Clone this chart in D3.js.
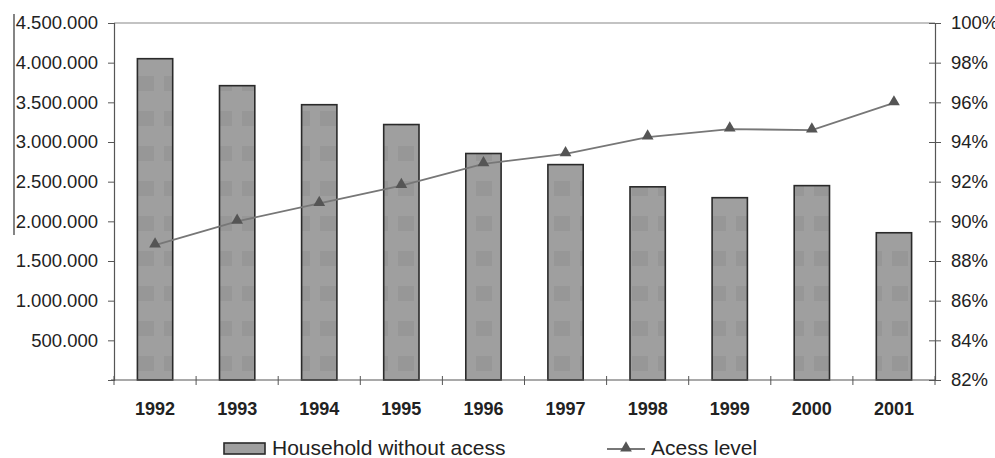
<!DOCTYPE html>
<html>
<head>
<meta charset="utf-8">
<script src="https://cdn.jsdelivr.net/npm/d3@7"></script>
<style>
  html, body { margin: 0; padding: 0; background: #fff; }
  svg { display: block; font-family: "Liberation Sans", Arial, sans-serif; }
</style>
</head>
<body>
<svg id="chart" width="995" height="458"></svg>
<script>
// Households without access and access level, 1992–2001
const years = ["1992", "1993", "1994", "1995", "1996", "1997", "1998", "1999", "2000", "2001"];
const householdsWithout = [4050000, 3710000, 3470000, 3220000, 2855000, 2715000, 2435000, 2298000, 2450000, 1856000];
const accessLevel = [88.8, 90.0, 90.9, 91.8, 92.9, 93.4, 94.25, 94.65, 94.6, 95.97];
const leftTicks = [500000, 1000000, 1500000, 2000000, 2500000, 3000000, 3500000, 4000000, 4500000];
const rightTicks = [82, 84, 86, 88, 90, 92, 94, 96, 98, 100];
const legendLabels = ["Household without acess", "Acess level"];

const svg = d3.select("#chart");
const m = { left: 114, right: 935, top: 23, bottom: 380 };
const axisColor = "#555";
const textColor = "#222";

const x = d3.scaleBand().domain(years).range([m.left, m.right]).paddingInner(0.57).paddingOuter(0.285);
const xBand = d3.scaleBand().domain(years).range([m.left, m.right]);
const yL = d3.scaleLinear().domain([0, 4500000]).range([m.bottom, m.top]);
const yR = d3.scaleLinear().domain([82, 100]).range([m.bottom, m.top]);

const fmtDots = d => d3.format(",")(d).replace(/,/g, ".");

// faint block texture inside the bars
const defs = svg.append("defs");
const pat = defs.append("pattern").attr("id", "barFill").attr("patternUnits", "userSpaceOnUse")
  .attr("width", 26).attr("height", 35);
pat.append("rect").attr("width", 26).attr("height", 35).attr("fill", "#9f9f9f");
pat.append("rect").attr("x", 8).attr("y", 6).attr("width", 16).attr("height", 15).attr("fill", "#979797");

// stray margin rule on the left edge
svg.append("line").attr("x1", 14).attr("x2", 14).attr("y1", 14).attr("y2", 235)
  .attr("stroke", "#333").attr("stroke-width", 1.2);

// bars
svg.append("g").selectAll("rect").data(years).join("rect")
  .attr("x", d => x(d))
  .attr("width", x.bandwidth())
  .attr("y", (d, i) => yL(householdsWithout[i]))
  .attr("height", (d, i) => m.bottom - yL(householdsWithout[i]))
  .attr("fill", "url(#barFill)")
  .attr("stroke", "#2a2a2a").attr("stroke-width", 1.6);

// top border
svg.append("line").attr("x1", m.left).attr("x2", m.right).attr("y1", m.top).attr("y2", m.top)
  .attr("stroke", "#888").attr("stroke-width", 1.2);

// left axis
const gL = svg.append("g").attr("transform", `translate(${m.left},0)`)
  .call(d3.axisLeft(yL).tickValues(leftTicks).tickFormat(fmtDots).tickSize(6).tickPadding(10));
gL.select(".domain").attr("stroke", axisColor).attr("stroke-width", 1.2);
gL.selectAll(".tick line").attr("stroke", axisColor);
gL.selectAll(".tick text").attr("font-size", 18.5).attr("fill", textColor).attr("font-family", "Liberation Sans, Arial, sans-serif");

// right axis, ticks crossing the line
const gR = svg.append("g").attr("transform", `translate(${m.right},0)`)
  .call(d3.axisRight(yR).tickValues(rightTicks).tickFormat(d => d + "%").tickSize(6).tickPadding(10));
gR.select(".domain").attr("stroke", axisColor).attr("stroke-width", 1.2);
gR.selectAll(".tick line").attr("x1", -6).attr("stroke", axisColor);
gR.selectAll(".tick text").attr("font-size", 18.5).attr("fill", textColor).attr("font-family", "Liberation Sans, Arial, sans-serif");

// bottom axis: separators between categories, bold year labels centred
const gB = svg.append("g").attr("transform", `translate(0,${m.bottom})`);
gB.append("line").attr("x1", m.left - 3).attr("x2", m.right).attr("stroke", axisColor).attr("stroke-width", 1.2);
const seps = years.map(d => xBand(d)).concat([m.right]);
gB.selectAll("line.sep").data(seps).join("line").attr("class", "sep")
  .attr("x1", d => d).attr("x2", d => d).attr("y1", -4).attr("y2", 5)
  .attr("stroke", axisColor);
gB.selectAll("text").data(years).join("text")
  .attr("x", d => xBand(d) + xBand.bandwidth() / 2)
  .attr("y", 35)
  .attr("text-anchor", "middle")
  .attr("font-size", 18).attr("font-weight", "bold").attr("fill", textColor)
  .text(d => d);

// access level line
const cx = (d) => xBand(d) + xBand.bandwidth() / 2;
const line = d3.line().x((d, i) => cx(years[i])).y(d => yR(d));
svg.append("path").datum(accessLevel).attr("d", line)
  .attr("fill", "none").attr("stroke", "#777").attr("stroke-width", 1.8);
const tri = d3.symbol().type(d3.symbolTriangle).size(60);
svg.append("g").selectAll("path").data(accessLevel).join("path")
  .attr("d", tri)
  .attr("transform", (d, i) => `translate(${cx(years[i])},${yR(d) - 1})`)
  .attr("fill", "#555");

// legend
const lg = svg.append("g");
lg.append("rect").attr("x", 224).attr("y", 443).attr("width", 41).attr("height", 11)
  .attr("fill", "#9f9f9f").attr("stroke", "#2a2a2a").attr("stroke-width", 1.6);
lg.append("text").attr("x", 272).attr("y", 455).attr("font-size", 21).attr("fill", textColor).text(legendLabels[0]);
lg.append("line").attr("x1", 607).attr("x2", 645).attr("y1", 449).attr("y2", 449)
  .attr("stroke", "#777").attr("stroke-width", 1.8);
lg.append("path").attr("d", tri).attr("transform", "translate(626,448)").attr("fill", "#555");
lg.append("text").attr("x", 651).attr("y", 455).attr("font-size", 21).attr("fill", textColor).text(legendLabels[1]);
</script>
</body>
</html>
